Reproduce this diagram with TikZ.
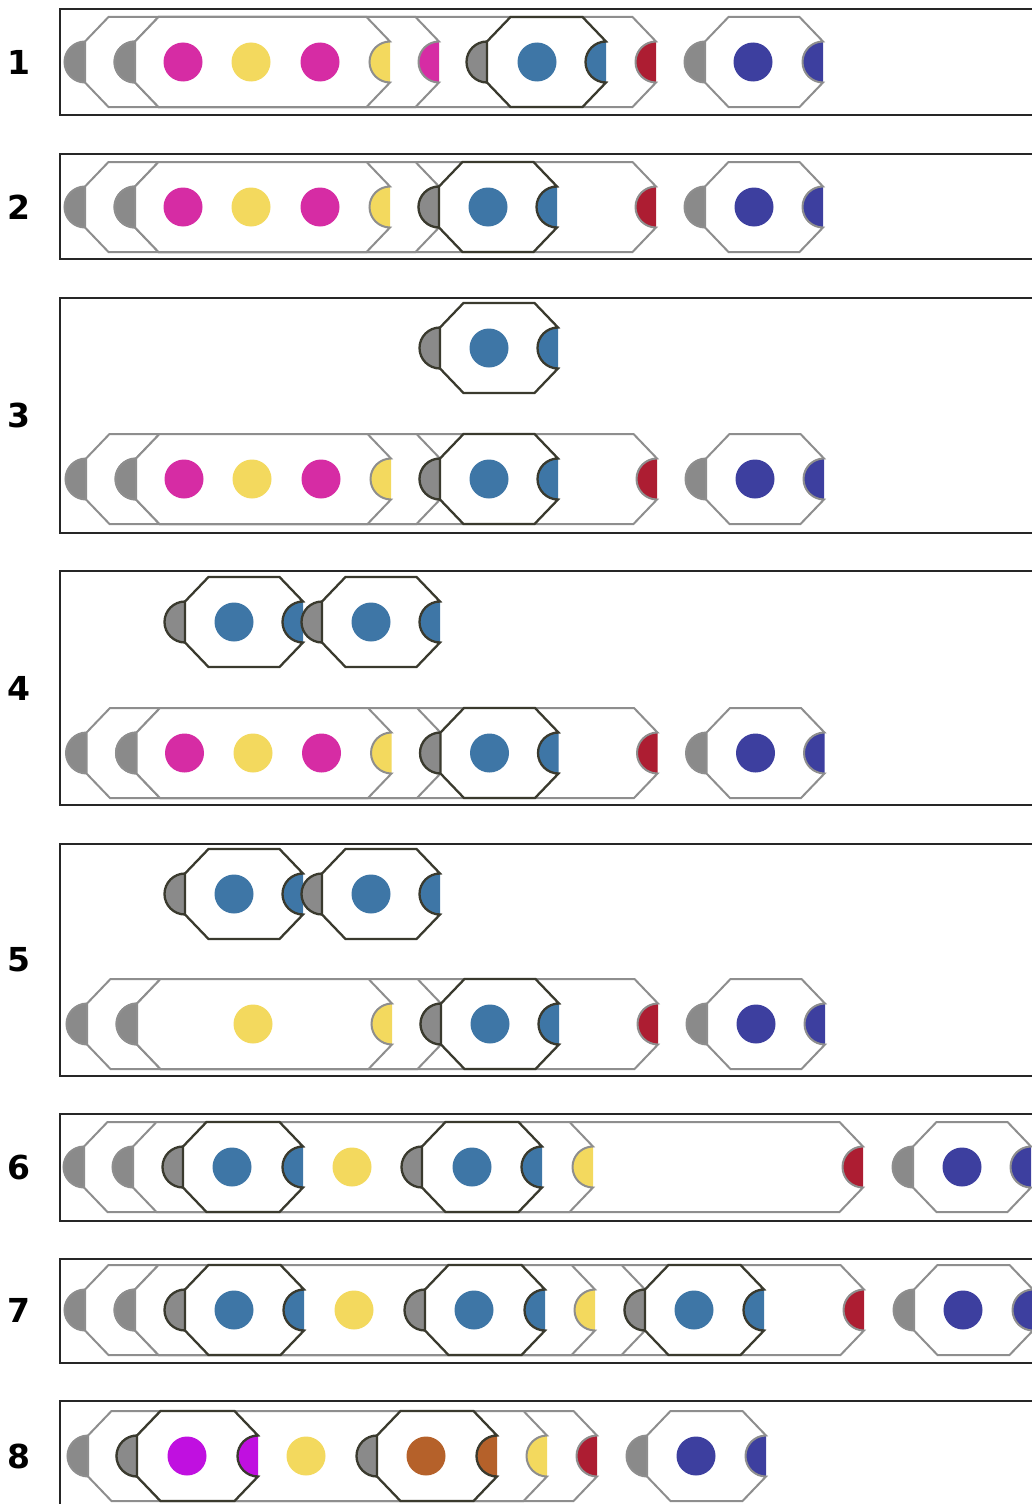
\documentclass[tikz,border=0pt]{standalone}
\usepackage{fontspec}
\setsansfont{DejaVu Sans}
\usepackage{tikz}
\usepackage{xcolor}
\definecolor{rimgray}{RGB}{142,142,142}
\definecolor{rimdark}{RGB}{58,58,46}
\definecolor{sockgray}{RGB}{138,138,138}
\definecolor{dotmag}{RGB}{214,44,164}
\definecolor{dotyel}{RGB}{243,217,94}
\definecolor{dotblue}{RGB}{62,118,166}
\definecolor{dotred}{RGB}{173,29,50}
\definecolor{dotind}{RGB}{61,63,159}
\definecolor{dotpur}{RGB}{192,16,224}
\definecolor{dotbrn}{RGB}{181,97,42}

\begin{document}
\begin{tikzpicture}[
  x=1pt,y=-1pt,
  frame/.style={black!85,line width=1.4pt},
  grim/.style={draw=rimgray,line width=2pt},
  drim/.style={draw=rimdark,line width=2.3pt},
  rowlab/.style={font=\sffamily\bfseries\fontsize{33}{36}\selectfont,inner sep=0pt}
]
\useasboundingbox (0,0) rectangle (1032,1504);
\clip (0,0) rectangle (1032,1504);
\foreach \t/\b in {9/115,154/259,298/533,571/805,844/1076,1114/1221,1259/1363,1401/1530}
  \draw[frame] (60,\t) rectangle (1045,\b);
\foreach \n/\y in {1/62,2/207,3/415,4/688,5/960,6/1167,7/1310,8/1456}
  \node[rowlab] (lab\n) at (19,\y) {\n};
% tiles: left edge / right edge / centre line / rim / socket colour
\foreach \l/\r/\y/\k/\c in {
  85/656/62/grim/dotred, 135/439/62/grim/dotmag, 135/390/62/grim/dotyel,
  487/606/62/drim/dotblue, 705/823/62/grim/dotind,
  85/656/207/grim/dotred, 135/439/207/grim/dotmag, 135/390/207/grim/dotyel,
  439/557/207/drim/dotblue, 705/823/207/grim/dotind,
  440/558/348/drim/dotblue,
  86/657/479/grim/dotred, 136/440/479/grim/dotmag, 136/391/479/grim/dotyel,
  440/558/479/drim/dotblue, 706/824/479/grim/dotind,
  185/303/622/drim/dotblue, 322/440/622/drim/dotblue,
  86.5/657.5/753/grim/dotred, 136.5/440.5/753/grim/dotmag, 136.5/391.5/753/grim/dotyel,
  440.5/558.5/753/drim/dotblue, 706.5/824.5/753/grim/dotind,
  185/303/894/drim/dotblue, 322/440/894/drim/dotblue,
  87/658/1024/grim/dotred, 137/441/1024/grim/dotmag, 137/392/1024/grim/dotyel,
  441/559/1024/drim/dotblue, 707/825/1024/grim/dotind,
  84/863/1167/grim/dotred, 133/593/1167/grim/dotyel,
  183/303/1167/drim/dotblue, 422/542/1167/drim/dotblue, 913/1031/1167/grim/dotind,
  85/864/1310/grim/dotred, 135/645/1310/grim/dotblue, 135/595/1310/grim/dotyel,
  185/304/1310/drim/dotblue, 425/545/1310/drim/dotblue, 645/764/1310/drim/dotblue,
  914/1033/1310/grim/dotind,
  88/597/1456/grim/dotred, 137/547/1456/grim/dotyel,
  137/258/1456/drim/dotpur, 377/497/1456/drim/dotbrn, 647/766/1456/grim/dotind}{
  \fill[sockgray] (\l,\y-20.5) arc[start angle=270,end angle=90,radius=20.5] -- cycle;
  \fill[\c] (\r,\y-20.5) arc[start angle=270,end angle=90,radius=20.5] -- cycle;
  \path[fill=white,\k] (\r,\y-20.5) -- (\r-23.5,\y-45) -- (\l+23.5,\y-45) -- (\l,\y-20.5)
    -- (\l,\y+20.5) -- (\l+23.5,\y+45) -- (\r-23.5,\y+45) -- (\r,\y+20.5)
    arc[start angle=90,end angle=270,radius=20.5] -- cycle;
  \draw[\k] (\l,\y-20.5) arc[start angle=270,end angle=90,radius=20.5];
}
% beads
\foreach \x/\y/\c in {
  183/62/dotmag, 251/62/dotyel, 320/62/dotmag, 537/62/dotblue, 753/62/dotind,
  183/207/dotmag, 251/207/dotyel, 320/207/dotmag, 488/207/dotblue, 754/207/dotind,
  489/348/dotblue,
  184/479/dotmag, 252/479/dotyel, 321/479/dotmag, 489/479/dotblue, 755/479/dotind,
  234/622/dotblue, 371/622/dotblue,
  184.5/753/dotmag, 253/753/dotyel, 321.5/753/dotmag, 489.5/753/dotblue, 755.5/753/dotind,
  234/894/dotblue, 371/894/dotblue,
  253/1024/dotyel, 490/1024/dotblue, 756/1024/dotind,
  232/1167/dotblue, 352/1167/dotyel, 472/1167/dotblue, 962/1167/dotind,
  234/1310/dotblue, 354/1310/dotyel, 474/1310/dotblue, 694/1310/dotblue, 963/1310/dotind,
  187/1456/dotpur, 306/1456/dotyel, 426/1456/dotbrn, 696/1456/dotind}
  \fill[\c] (\x,\y) circle[radius=19.5];
\end{tikzpicture}
\end{document}
